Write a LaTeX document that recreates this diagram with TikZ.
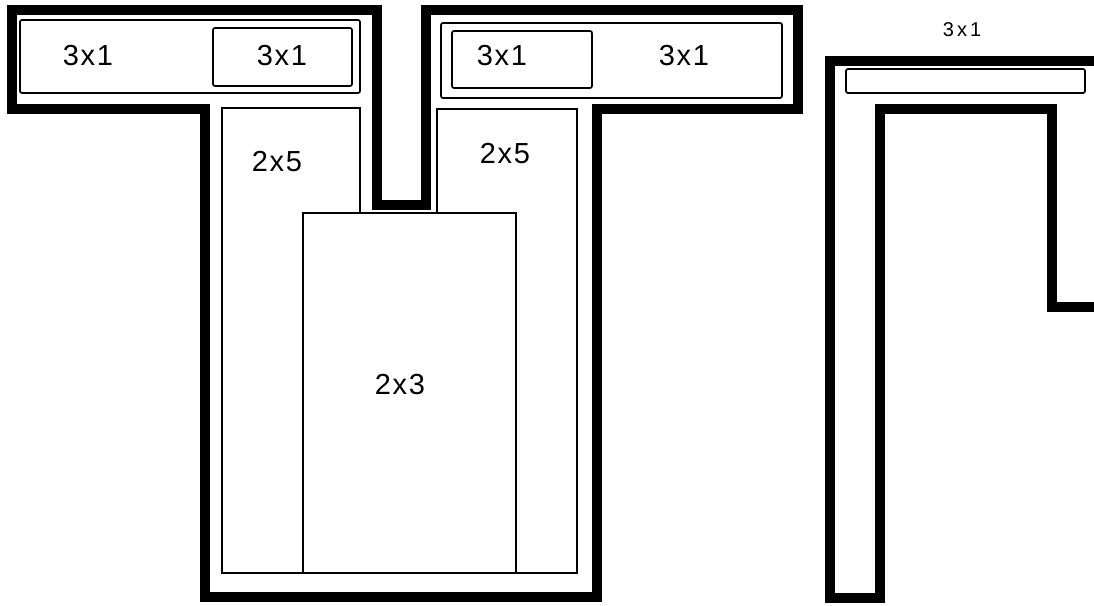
\documentclass[tikz,border=0pt]{standalone}
\usepackage{fontspec}
\setmainfont{Liberation Sans}
\begin{document}
\begin{tikzpicture}[x=1pt,y=-1pt,
  wall/.style={line width=9.5pt, line join=miter},
  thin/.style={line width=1.7pt, rounded corners=2pt},
  lbl/.style={font=\fontsize{29}{30}\selectfont\addfontfeature{LetterSpace=6}, inner sep=0pt},
  slbl/.style={font=\fontsize{20}{21}\selectfont\addfontfeature{LetterSpace=15}, inner sep=0pt}]
\useasboundingbox (0,0) rectangle (1094,605);
\clip (0,0) rectangle (1094,605);
% main T-shaped wall
\draw[wall] (12,10) -- (377,10) -- (377,205) -- (426,205) -- (426,10) -- (798,10)
  -- (798,109) -- (597,109) -- (597,597) -- (205,597) -- (205,109) -- (12,109) -- cycle;
% right wall
\draw[wall] (1110,61) -- (830,61) -- (830,598) -- (880,598) -- (880,109) -- (1052,109)
  -- (1052,307) -- (1110,307);
% top-left boxes
\draw[thin] (20,20) rectangle (360,93);
\draw[thin] (213,28) rectangle (352,86);
% top-right boxes
\draw[thin] (441,23) rectangle (782,98);
\draw[thin] (452,31) rectangle (592,88);
% right thin box
\draw[thin] (846,69) rectangle (1085,93);
% 2x5 boxes
\draw[line width=1.7pt] (222,108) rectangle (360,573);
\draw[line width=1.7pt] (437,109) rectangle (577,573);
% 2x3 box
\draw[line width=1.7pt, fill=white] (303,213) rectangle (516,573);
% labels
\node[lbl] (a) at (88,56) {3x1};
\node[lbl] (b) at (282,56) {3x1};
\node[lbl] (c) at (502,56) {3x1};
\node[lbl] (d) at (684,56) {3x1};
\node[lbl] (e) at (277,162) {2x5};
\node[lbl] (f) at (505,154) {2x5};
\node[lbl] (g) at (400,385) {2x3};
\node[slbl] (h) at (962,30) {3x1};
\end{tikzpicture}
\end{document}
